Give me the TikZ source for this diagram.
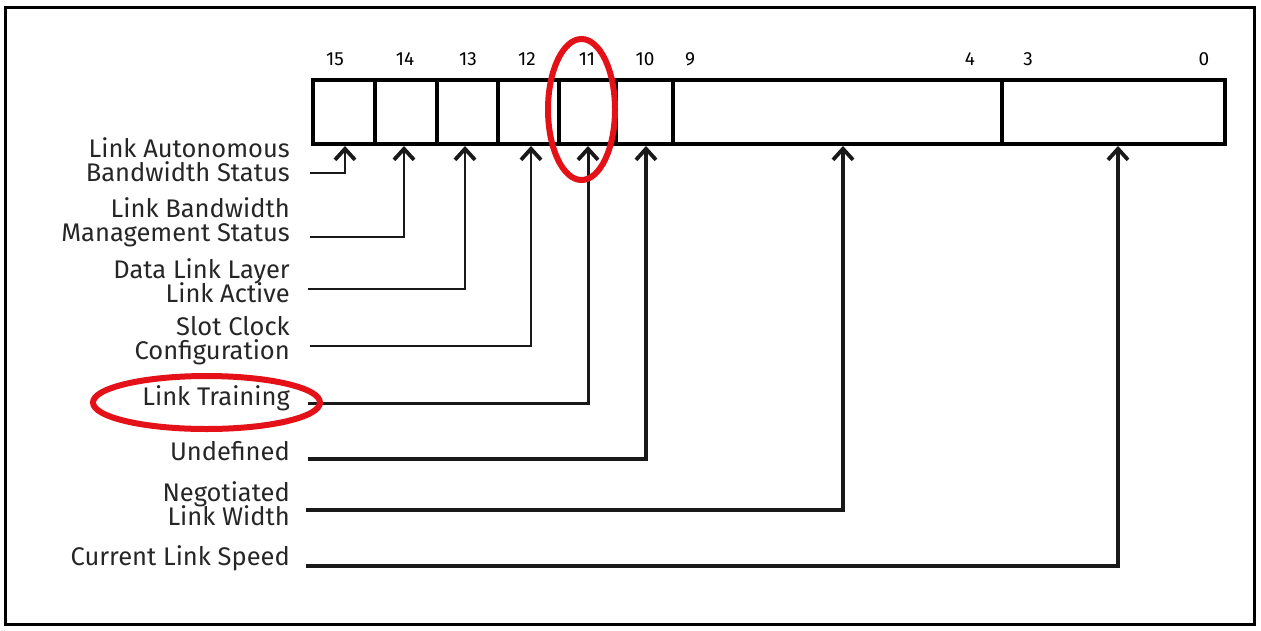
\documentclass[tikz,border=0pt]{standalone}
\usepackage{fontspec}
\setmainfont{Fira Sans}
\usetikzlibrary{arrows.meta}
\definecolor{hl}{RGB}{228,18,24}
\newcommand\mylabfont{\fontsize{25.5}{23.5}\selectfont\lineskiplimit=-30pt\relax\lineskip=0pt\relax}
\tikzset{
  cell/.style={draw=black, line width=4pt, minimum height=64pt, inner sep=0pt, outer sep=0pt},
  bitnum/.style={anchor=base, font=\fontsize{19}{21}\selectfont, inner sep=0pt},
  lab/.style={anchor=base east, align=right, font=\mylabfont, inner sep=0pt, text=black!85},
  conn/.style={draw=black!90, line width=#1, -{Straight Barb[length=11pt,width=20pt,line width=3.8pt]}},
  hiring/.style={draw=hl, line width=6pt}
}
\begin{document}
\begin{tikzpicture}[x=1pt,y=-1pt]
\useasboundingbox (0,0) rectangle (1261,630);
\node[draw=black, line width=3pt, minimum width=1249pt, minimum height=617pt, inner sep=0pt] (frame) at (629.5,315.5) {};
% register cells
\node[cell, minimum width=62pt] (b15) at (344,112) {};
\node[cell, minimum width=62pt] (b14) at (406,112) {};
\node[cell, minimum width=61pt] (b13) at (467.5,112) {};
\node[cell, minimum width=61pt] (b12) at (528.5,112) {};
\node[cell, minimum width=57pt] (b11) at (587.5,112) {};
\node[cell, minimum width=57pt] (b10) at (644.5,112) {};
\node[cell, minimum width=329pt] (b94) at (837.5,112) {};
\node[cell, minimum width=223pt] (b30) at (1113.5,112) {};
% bit numbers
\node[bitnum] (n15) at (335,65) {15};
\node[bitnum] (n14) at (405,65) {14};
\node[bitnum] (n13) at (468,65) {13};
\node[bitnum] (n12) at (527,65) {12};
\node[bitnum] (n11) at (587,65) {11};
\node[bitnum] (n10) at (645,65) {10};
\node[bitnum] (n9) at (690,65) {9};
\node[bitnum] (n4) at (970,65) {4};
\node[bitnum] (n3) at (1028,65) {3};
\node[bitnum] (n0) at (1204,65) {0};
% labels (anchored at the baseline of their last line)
\node[lab] (l1) at (290,181) {Link Autonomous\\Bandwidth Status};
\node[lab] (l2) at (290,241) {Link Bandwidth\\Management Status};
\node[lab] (l3) at (290,302) {Data Link Layer\\Link Active};
\node[lab] (l4) at (290,359) {Slot Clock\\Configuration};
\node[lab] (l5) at (290,405) {Link Training};
\node[lab] (l6) at (290,460) {Undefined};
\node[lab] (l7) at (290,525) {Negotiated\\Link Width};
\node[lab] (l8) at (290,565) {Current Link Speed};
% connector ends
\coordinate (s1) at (310,173); \coordinate (t1) at (345,146);
\coordinate (s2) at (310,237); \coordinate (t2) at (404,146);
\coordinate (s3) at (308,289); \coordinate (t3) at (465,146);
\coordinate (s4) at (310,346); \coordinate (t4) at (531,146);
\coordinate (s5) at (308,403); \coordinate (t5) at (588,146);
\coordinate (s6) at (308,459); \coordinate (t6) at (646,146);
\coordinate (s7) at (306,510); \coordinate (t7) at (843,146);
\coordinate (s8) at (306,566); \coordinate (t8) at (1118,146);
\draw[conn=2.2pt] (s1) -| (t1);
\draw[conn=2.4pt] (s2) -| (t2);
\draw[conn=2.4pt] (s3) -| (t3);
\draw[conn=2.4pt] (s4) -| (t4);
\draw[conn=3pt] (s5) -| (t5);
\draw[conn=4.5pt] (s6) -| (t6);
\draw[conn=4.5pt] (s7) -| (t7);
\draw[conn=4.5pt] (s8) -| (t8);
% highlights
\draw[hiring] (581.5,109.5) ellipse [x radius=33.5, y radius=70.5];
\draw[hiring] (206.5,402.5) ellipse [x radius=113.5, y radius=26.5];
\end{tikzpicture}
\end{document}
